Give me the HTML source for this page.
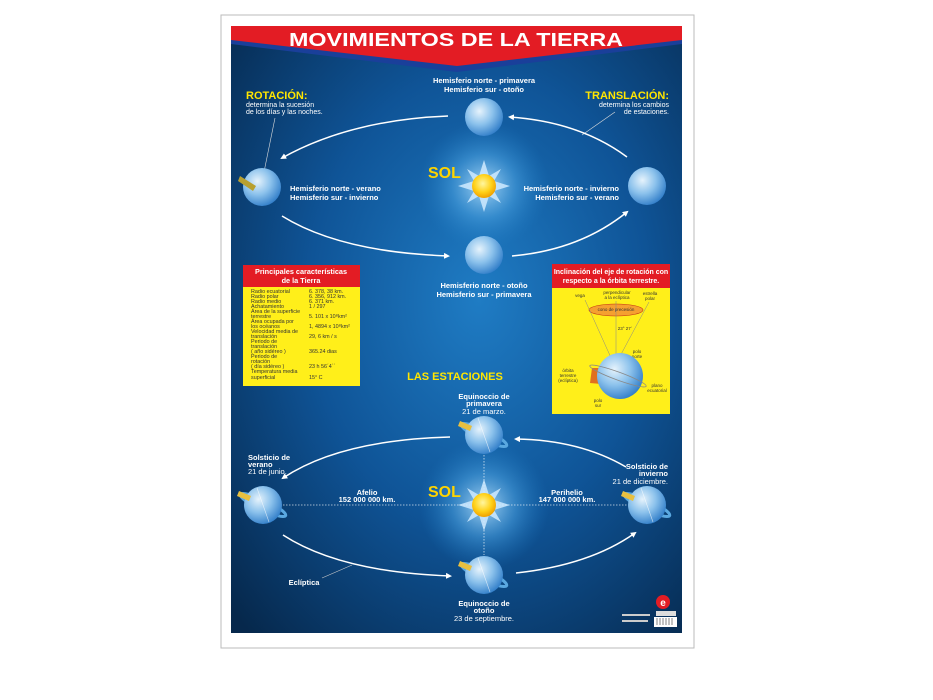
<!DOCTYPE html>
<html><head><meta charset="utf-8"><style>
html,body{margin:0;padding:0;background:#fff;width:933px;height:700px;overflow:hidden}
svg{display:block;font-family:"Liberation Sans",Arial,sans-serif}
</style></head><body>
<svg width="933" height="700" viewBox="0 0 933 700" xmlns="http://www.w3.org/2000/svg">
<defs>
<radialGradient id="bg" cx="0.55" cy="0.45" r="0.75">
<stop offset="0" stop-color="#1f7cc4"/><stop offset="0.5" stop-color="#0f5497"/><stop offset="1" stop-color="#06284c"/>
</radialGradient>
<radialGradient id="glow" cx="0.5" cy="0.5" r="0.5">
<stop offset="0" stop-color="#bfe6ff" stop-opacity="0.9"/><stop offset="0.5" stop-color="#4fa8e6" stop-opacity="0.5"/><stop offset="1" stop-color="#1f7cc4" stop-opacity="0"/>
</radialGradient>
<radialGradient id="earth" cx="0.38" cy="0.35" r="0.7">
<stop offset="0" stop-color="#e6f3fc"/><stop offset="0.5" stop-color="#8cc2ec"/><stop offset="1" stop-color="#2f7cc8"/>
</radialGradient>
<radialGradient id="sun" cx="0.45" cy="0.4" r="0.6">
<stop offset="0" stop-color="#fff6a0"/><stop offset="0.6" stop-color="#ffd21a"/><stop offset="1" stop-color="#f0a000"/>
</radialGradient>
<marker id="ar" markerWidth="6" markerHeight="6" refX="4" refY="3" orient="auto" markerUnits="userSpaceOnUse"><path d="M0,0 L6,3 L0,6 Z" fill="#fff"/></marker>
<g id="star"><polygon points="0,-26 5,-10 17,-17 10,-5 26,0 10,5 17,17 5,10 0,26 -5,10 -17,17 -10,5 -26,0 -10,-5 -17,-17 -5,-10" fill="#cfeaff" opacity="0.85"/><circle r="12" fill="url(#sun)"/></g>
<g id="e"><circle r="19" fill="url(#earth)"/></g>
<g id="et"><ellipse rx="25" ry="5" transform="rotate(25)" fill="none" stroke="#5aa8e0" stroke-width="3"/><circle r="19" fill="url(#earth)"/><path d="M-24,-14 L-12,-9 L-14,-4 L-26,-9Z" fill="#e8c040"/><line x1="-6" y1="-17" x2="6" y2="17" stroke="#fff" stroke-width="0.6" opacity="0.7"/></g>
</defs>
<rect x="221" y="15" width="473" height="633" fill="#fff" stroke="#bbb"/>
<rect x="231" y="26" width="451" height="607" fill="url(#bg)"/>
<circle cx="484" cy="186" r="65" fill="url(#glow)"/>
<circle cx="484" cy="505" r="65" fill="url(#glow)"/>
<polygon points="231,26 682,26 682,44 457,72 231,44" fill="#1a3f9a"/>
<polygon points="231,26 682,26 682,40 457,66 231,40" fill="#e31c24"/>
<text x="289" y="46" textLength="334" lengthAdjust="spacingAndGlyphs" font-size="18" font-weight="bold" fill="#fff">MOVIMIENTOS DE LA TIERRA</text>

<g fill="#fff" font-size="7.5" font-weight="bold" text-anchor="middle">
<text x="484" y="83">Hemisferio norte - primavera</text><text x="484" y="92">Hemisferio sur - otoño</text>
<text x="290" y="191" text-anchor="start">Hemisferio norte - verano</text><text x="290" y="200" text-anchor="start">Hemisferio sur - invierno</text>
<text x="619" y="191" text-anchor="end">Hemisferio norte - invierno</text><text x="619" y="200" text-anchor="end">Hemisferio sur - verano</text>
<text x="484" y="288">Hemisferio norte - otoño</text><text x="484" y="297">Hemisferio sur - primavera</text>
</g>
<text x="246" y="99" font-size="11" font-weight="bold" fill="#ffe600">ROTACIÓN:</text>
<text x="246" y="107" font-size="7" fill="#fff">determina la sucesión</text><text x="246" y="114" font-size="7" fill="#fff">de los días y las noches.</text>
<text x="669" y="99" font-size="11" font-weight="bold" fill="#ffe600" text-anchor="end">TRANSLACIÓN:</text>
<text x="669" y="107" font-size="7" fill="#fff" text-anchor="end">determina los cambios</text><text x="669" y="114" font-size="7" fill="#fff" text-anchor="end">de estaciones.</text>
<line x1="275" y1="118" x2="264" y2="172" stroke="#ddd" stroke-width="0.6"/>
<line x1="615" y1="112" x2="582" y2="135" stroke="#ddd" stroke-width="0.6"/>

<g fill="none" stroke="#fff" stroke-width="1.5" marker-end="url(#ar)">
<path d="M448,116 Q350,120 282,158"/>
<path d="M282,216 Q340,252 448,256"/>
<path d="M512,256 Q580,250 627,212"/>
<path d="M627,157 Q580,122 510,117"/>
</g>
<use href="#e" x="484" y="117"/><use href="#e" x="262" y="187"/><use href="#e" x="647" y="186"/><use href="#e" x="484" y="255"/>
<path d="M240,176 L256,186 L253,191 L238,181Z" fill="#b8a030"/>
<use href="#star" x="484" y="186"/>
<text x="428" y="178" font-size="16" font-weight="bold" fill="#ffd400">SOL</text>

<!-- left table -->
<rect x="243" y="265" width="117" height="121" fill="#ffef1a"/>
<rect x="243" y="265" width="117" height="22" fill="#e31c24"/>
<text x="301" y="274" font-size="7.3" font-weight="bold" fill="#fff" text-anchor="middle">Principales características</text>
<text x="301" y="283" font-size="7.3" font-weight="bold" fill="#fff" text-anchor="middle">de la Tierra</text>
<g font-size="5.4" fill="#333">
<text x="251" y="293">Radio ecuatorial</text><text x="309" y="293">6. 378, 38 km.</text>
<text x="251" y="298">Radio polar</text><text x="309" y="298">6. 356, 912 km.</text>
<text x="251" y="303">Radio medio</text><text x="309" y="303">6. 371 km.</text>
<text x="251" y="308">Achatamiento</text><text x="309" y="308">1 / 297</text>
<text x="251" y="313">Área de la superficie</text>
<text x="251" y="318">terrestre</text><text x="309" y="318">5. 101 x 10⁸km²</text>
<text x="251" y="323">Área ocupada por</text>
<text x="251" y="328">los océanos</text><text x="309" y="328">1, 4894 x 10⁸km²</text>
<text x="251" y="333">Velocidad media de</text>
<text x="251" y="338">translación</text><text x="309" y="338">29, 6 km / s</text>
<text x="251" y="343">Periodo de</text>
<text x="251" y="348">translación</text>
<text x="251" y="353">( año sidéreo )</text><text x="309" y="353">365.24 dias</text>
<text x="251" y="358">Periodo de</text>
<text x="251" y="363">rotación</text>
<text x="251" y="368">( día sidéreo )</text><text x="309" y="368">23 h 56´4´´</text>
<text x="251" y="373">Temperatura media</text>
<text x="251" y="379">superficial</text><text x="309" y="379">15° C</text>
</g>
<!-- right box -->
<rect x="552" y="264" width="118" height="150" fill="#ffef1a"/>
<rect x="552" y="264" width="118" height="24" fill="#e31c24"/>
<text x="611" y="274" font-size="7" font-weight="bold" fill="#fff" text-anchor="middle">Inclinación del eje de rotación con</text>
<text x="611" y="283" font-size="7" font-weight="bold" fill="#fff" text-anchor="middle">respecto a la órbita terrestre.</text>
<g font-size="4.5" fill="#333" text-anchor="middle">
<text x="580" y="297">vega</text><text x="617" y="294">perpendicular</text><text x="617" y="299">a la eclíptica</text>
<text x="650" y="295">estrella</text><text x="650" y="300">polar</text>
<text x="625" y="330">23° 27´</text>
<text x="637" y="353">polo</text><text x="637" y="358">norte</text>
<text x="568" y="372">órbita</text><text x="568" y="377">terrestre</text><text x="568" y="382">(eclíptica)</text>
<text x="657" y="387">plano</text><text x="657" y="392">ecuatorial</text>
<text x="598" y="402">polo</text><text x="598" y="407">sur</text>
</g>
<ellipse cx="616" cy="310" rx="27" ry="6" fill="#f5a030" stroke="#c03010" stroke-width="0.6"/>
<text x="616" y="311" font-size="4.5" fill="#333" text-anchor="middle">cono de precesión</text>
<line x1="585" y1="300" x2="612" y2="360" stroke="#888" stroke-width="0.5"/>
<line x1="616" y1="301" x2="616" y2="360" stroke="#888" stroke-width="0.5"/>
<line x1="649" y1="302" x2="618" y2="360" stroke="#888" stroke-width="0.5"/>
<path d="M592,368 L612,368 L612,385 L590,383Z" fill="#e07020"/>
<circle cx="620" cy="376" r="23" fill="url(#earth)"/>
<ellipse cx="618" cy="376" rx="30" ry="4" transform="rotate(20 618 376)" fill="none" stroke="#888" stroke-width="0.8"/>

<text x="455" y="380" font-size="11" font-weight="bold" fill="#ffe600" text-anchor="middle">LAS ESTACIONES</text>
<g fill="#fff" font-size="7.5" text-anchor="middle">
<text x="484" y="399" font-weight="bold">Equinoccio de</text><text x="484" y="406" font-weight="bold">primavera</text><text x="484" y="414">21 de marzo.</text>
<text x="248" y="460" font-weight="bold" text-anchor="start">Solsticio de</text><text x="248" y="467" font-weight="bold" text-anchor="start">verano</text><text x="248" y="474" text-anchor="start">21 de junio.</text>
<text x="668" y="469" font-weight="bold" text-anchor="end">Solsticio de</text><text x="668" y="476" font-weight="bold" text-anchor="end">invierno</text><text x="668" y="484" text-anchor="end">21 de diciembre.</text>
<text x="367" y="495" font-weight="bold">Afelio</text><text x="367" y="502" font-weight="bold">152 000 000 km.</text>
<text x="567" y="495" font-weight="bold">Perihelio</text><text x="567" y="502" font-weight="bold">147 000 000 km.</text>
<text x="304" y="585" font-weight="bold">Eclíptica</text>
<text x="484" y="606" font-weight="bold">Equinoccio de</text><text x="484" y="613" font-weight="bold">otoño</text><text x="484" y="621">23 de septiembre.</text>
</g>
<g stroke="#fff" stroke-width="0.8" stroke-dasharray="1.5,1.5" opacity="0.8">
<line x1="283" y1="505" x2="627" y2="505"/><line x1="484" y1="455" x2="484" y2="555"/>
</g>
<g fill="none" stroke="#fff" stroke-width="1.5" marker-end="url(#ar)">
<path d="M450,437 Q340,440 283,478"/>
<path d="M283,535 Q340,572 450,576"/>
<path d="M516,573 Q590,565 635,533"/>
<path d="M626,467 Q580,440 516,439"/>
</g>
<line x1="322" y1="578" x2="352" y2="565" stroke="#ccc" stroke-width="0.6"/>
<use href="#et" x="484" y="435"/><use href="#et" x="263" y="505"/><use href="#et" x="647" y="505"/><use href="#et" x="484" y="575"/>
<use href="#star" x="484" y="505"/>
<text x="428" y="497" font-size="16" font-weight="bold" fill="#ffd400">SOL</text>
<circle cx="663" cy="602" r="7" fill="#e31c24"/><text x="663" y="606" font-size="10" font-weight="bold" fill="#fff" text-anchor="middle">e</text>
<rect x="656" y="611" width="20" height="5" fill="#ddd"/>
<rect x="654" y="617" width="23" height="10" fill="#fff"/>
<g stroke="#333" stroke-width="0.6"><line x1="657" y1="618" x2="657" y2="625"/><line x1="660" y1="618" x2="660" y2="625"/><line x1="663" y1="618" x2="663" y2="625"/><line x1="666" y1="618" x2="666" y2="625"/><line x1="669" y1="618" x2="669" y2="625"/><line x1="672" y1="618" x2="672" y2="625"/></g>
<rect x="622" y="614" width="28" height="2" fill="#ccc"/><rect x="622" y="620" width="26" height="2" fill="#ccc"/>
</svg>
</body></html>
